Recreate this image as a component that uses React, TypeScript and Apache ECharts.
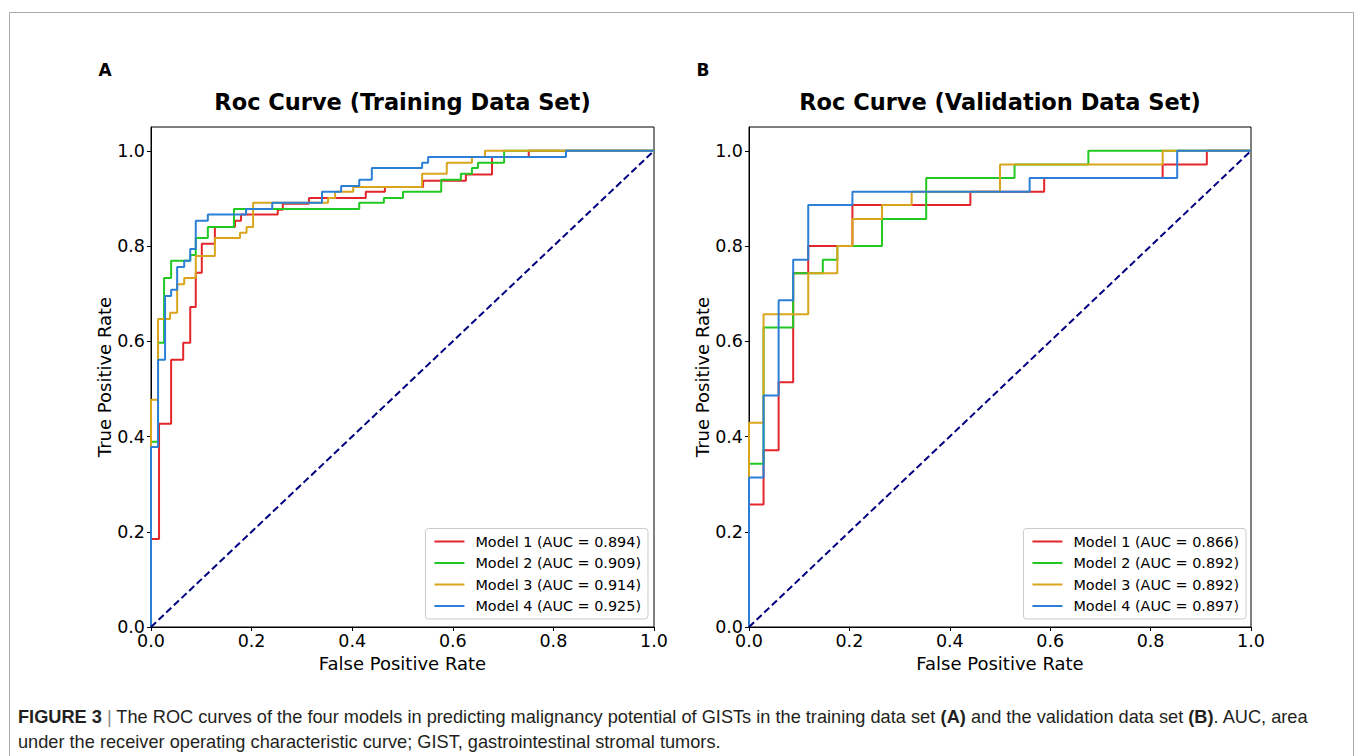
import React, { useEffect, useRef } from "react";
import * as echarts from "echarts";

// ---------- data (corner points of each ROC step curve: [FPR, TPR]) ----------
const trainModel1: number[][] = [[0,0],[0,0.185],[0.016,0.185],[0.016,0.427],[0.04,0.427],[0.04,0.561],[0.064,0.561],[0.064,0.597],[0.078,0.597],[0.078,0.672],[0.089,0.672],[0.089,0.744],[0.101,0.744],[0.101,0.805],[0.127,0.805],[0.127,0.84],[0.167,0.84],[0.167,0.853],[0.179,0.853],[0.179,0.866],[0.252,0.866],[0.252,0.876],[0.262,0.876],[0.262,0.889],[0.314,0.889],[0.314,0.901],[0.427,0.901],[0.427,0.914],[0.465,0.914],[0.465,0.924],[0.541,0.924],[0.541,0.937],[0.626,0.937],[0.626,0.95],[0.678,0.95],[0.678,0.987],[0.751,0.987],[0.751,1],[1,1]];
const trainModel2: number[][] = [[0,0],[0,0.389],[0.014,0.389],[0.014,0.597],[0.026,0.597],[0.026,0.733],[0.04,0.733],[0.04,0.769],[0.078,0.769],[0.078,0.781],[0.089,0.781],[0.089,0.817],[0.113,0.817],[0.113,0.84],[0.165,0.84],[0.165,0.878],[0.414,0.878],[0.414,0.891],[0.463,0.891],[0.463,0.901],[0.501,0.901],[0.501,0.914],[0.577,0.914],[0.577,0.939],[0.616,0.939],[0.616,0.952],[0.638,0.952],[0.638,0.964],[0.65,0.964],[0.65,0.975],[0.702,0.975],[0.702,1],[1,1]];
const trainModel3: number[][] = [[0,0],[0,0.477],[0.014,0.477],[0.014,0.647],[0.038,0.647],[0.038,0.66],[0.052,0.66],[0.052,0.72],[0.066,0.72],[0.066,0.733],[0.089,0.733],[0.089,0.779],[0.127,0.779],[0.127,0.817],[0.177,0.817],[0.177,0.828],[0.19,0.828],[0.19,0.84],[0.203,0.84],[0.203,0.891],[0.352,0.891],[0.352,0.901],[0.366,0.901],[0.366,0.914],[0.402,0.914],[0.402,0.924],[0.539,0.924],[0.539,0.952],[0.588,0.952],[0.588,0.975],[0.638,0.975],[0.638,0.987],[0.664,0.987],[0.664,1],[1,1]];
const trainModel4: number[][] = [[0,0],[0,0.378],[0.014,0.378],[0.014,0.561],[0.028,0.561],[0.028,0.695],[0.04,0.695],[0.04,0.708],[0.052,0.708],[0.052,0.756],[0.066,0.756],[0.066,0.769],[0.078,0.769],[0.078,0.794],[0.089,0.794],[0.089,0.853],[0.113,0.853],[0.113,0.866],[0.189,0.866],[0.189,0.878],[0.241,0.878],[0.241,0.891],[0.34,0.891],[0.34,0.914],[0.378,0.914],[0.378,0.926],[0.414,0.926],[0.414,0.939],[0.439,0.939],[0.439,0.964],[0.539,0.964],[0.539,0.975],[0.551,0.975],[0.551,0.987],[0.825,0.987],[0.825,1],[1,1]];

const validModel1: number[][] = [[0,0],[0,0.257],[0.029,0.257],[0.029,0.371],[0.059,0.371],[0.059,0.514],[0.088,0.514],[0.088,0.743],[0.118,0.743],[0.118,0.8],[0.206,0.8],[0.206,0.886],[0.441,0.886],[0.441,0.914],[0.588,0.914],[0.588,0.943],[0.824,0.943],[0.824,0.971],[0.912,0.971],[0.912,1],[1,1]];
const validModel2: number[][] = [[0,0],[0,0.343],[0.029,0.343],[0.029,0.629],[0.088,0.629],[0.088,0.743],[0.147,0.743],[0.147,0.771],[0.176,0.771],[0.176,0.8],[0.265,0.8],[0.265,0.857],[0.353,0.857],[0.353,0.943],[0.529,0.943],[0.529,0.971],[0.676,0.971],[0.676,1],[1,1]];
const validModel3: number[][] = [[0,0],[0,0.429],[0.029,0.429],[0.029,0.657],[0.118,0.657],[0.118,0.743],[0.176,0.743],[0.176,0.8],[0.206,0.8],[0.206,0.857],[0.265,0.857],[0.265,0.886],[0.324,0.886],[0.324,0.914],[0.5,0.914],[0.5,0.971],[0.824,0.971],[0.824,1],[1,1]];
const validModel4: number[][] = [[0,0],[0,0.314],[0.029,0.314],[0.029,0.486],[0.059,0.486],[0.059,0.686],[0.088,0.686],[0.088,0.771],[0.118,0.771],[0.118,0.886],[0.206,0.886],[0.206,0.914],[0.559,0.914],[0.559,0.943],[0.853,0.943],[0.853,1],[1,1]];

const chanceLine: number[][] = [[0,0],[1,1]];

const trainNames = ["Model 1 (AUC = 0.894)", "Model 2 (AUC = 0.909)", "Model 3 (AUC = 0.914)", "Model 4 (AUC = 0.925)"];
const validNames = ["Model 1 (AUC = 0.866)", "Model 2 (AUC = 0.892)", "Model 3 (AUC = 0.892)", "Model 4 (AUC = 0.897)"];
const panelTitles = ["Roc Curve (Training Data Set)", "Roc Curve (Validation Data Set)"];
const panelLetters = ["A", "B"];
const tickValues = [0, 0.2, 0.4, 0.6, 0.8, 1.0];
const captionLine1 = "{b|FIGURE 3} {g||} The ROC curves of the four models in predicting malignancy potential of GISTs in the training data set {b|(A)} and the validation data set {b|(B)}. AUC, area";
const captionLine2 = "under the receiver operating characteristic curve; GIST, gastrointestinal stromal tumors.";

const modelColors = ["#e3262b", "#22c922", "#d8a51c", "#2b80d6"];

const FONT = "DejaVu Sans";

export default function App() {
  const ref = useRef<HTMLDivElement>(null);
  useEffect(() => {
    if (!ref.current) return;
    const chart = echarts.init(ref.current, undefined, { renderer: "svg" });
    const grids = [
      { left: 151, top: 127, width: 503, height: 500 },
      { left: 749, top: 127, width: 502, height: 500 },
    ];
    const axisCommon = {
      type: "value",
      axisLine: { show: true, onZero: false, lineStyle: { color: "#000", width: 1 } },
      axisTick: { show: true, length: 4, lineStyle: { color: "#000" }, customValues: tickValues },
      axisLabel: {
        fontFamily: FONT, fontSize: 17.5, color: "#000",
        customValues: tickValues,
        formatter: (v: number) => v.toFixed(1),
      },
      splitLine: { show: false },
      nameLocation: "middle",
      nameTextStyle: { fontFamily: FONT, fontSize: 18, color: "#000" },
    };
    const xAxis = [0, 1].map((i) => ({
      ...axisCommon, gridIndex: i, min: 0, max: 1, name: "False Positive Rate", nameGap: 21,
      axisLabel: { ...axisCommon.axisLabel, margin: 5 },
    }));
    const yAxis = [0, 1].map((i) => ({
      ...axisCommon, gridIndex: i, min: 0, max: 1.05, name: "True Positive Rate", nameGap: 33,
      axisLabel: { ...axisCommon.axisLabel, margin: 6 },
    }));

    const trainData = [trainModel1, trainModel2, trainModel3, trainModel4];
    const validData = [validModel1, validModel2, validModel3, validModel4];
    const series: any[] = [];
    [trainData, validData].forEach((set, gi) => {
      set.forEach((d, k) => {
        series.push({
          type: "line",
          name: (gi === 0 ? trainNames : validNames)[k],
          xAxisIndex: gi, yAxisIndex: gi,
          data: d, showSymbol: false, symbol: "none", clip: false,
          color: modelColors[k],
          lineStyle: { color: modelColors[k], width: 2 },
          z: 2 + k,
        });
      });
      series.push({
        type: "line", name: "chance" + gi, xAxisIndex: gi, yAxisIndex: gi,
        data: chanceLine, showSymbol: false, symbol: "none", clip: false,
        lineStyle: { color: "#000080", width: 2, type: [7, 3.5] }, z: 7,
      });
    });

    const legendCommon = {
      orient: "vertical", bottom: 137, icon: "rect", itemWidth: 30, itemHeight: 2,
      itemGap: 5.5, padding: [5, 7, 5, 9],
      borderColor: "#cccccc", borderWidth: 1, borderRadius: 3, backgroundColor: "rgba(255,255,255,0.9)",
      textStyle: { fontFamily: FONT, fontSize: 14.4, color: "#000", lineHeight: 16, padding: [0, 0, 0, 6] },
      selectedMode: false,
    };

    const graphic: any[] = [
      { type: "rect", shape: { x: 9.5, y: 12.5, width: 1344, height: 800 }, style: { fill: "none", stroke: "#aaaaaa", lineWidth: 1 }, silent: true },
    ];
    grids.forEach((g, i) => {
      graphic.push({
        type: "text", x: g.left + g.width / 2, y: 102,
        style: { text: panelTitles[i], fontFamily: FONT, fontWeight: "bold", fontSize: 22.5, fill: "#000", align: "center", verticalAlign: "middle" },
      });
      graphic.push({
        type: "text", x: g.left - 46, y: 70,
        style: { text: panelLetters[i], fontFamily: FONT, fontWeight: "bold", fontSize: 17, fill: "#000", align: "center", verticalAlign: "middle" },
      });
    });
    graphic.push({
      type: "text", x: 18, y: 717,
      style: {
        text: captionLine1, fontFamily: "Liberation Sans", fontSize: 18.2, fill: "#231f20", verticalAlign: "middle",
        rich: {
          b: { fontFamily: "Liberation Sans", fontSize: 18.2, fontWeight: "bold", fill: "#231f20" },
          g: { fontFamily: "Liberation Sans", fontSize: 18.2, fill: "#8a8a8a" },
        },
      },
    });
    graphic.push({
      type: "text", x: 18, y: 742,
      style: { text: captionLine2, fontFamily: "Liberation Sans", fontSize: 18.2, fill: "#231f20", verticalAlign: "middle" },
    });

    chart.setOption({
      animation: false,
      backgroundColor: "#ffffff",
      grid: grids.map((g) => ({ ...g, show: true, borderColor: "#000", borderWidth: 1, backgroundColor: "transparent" })),
      xAxis, yAxis,
      legend: [
        { ...legendCommon, right: 707, data: trainNames },
        { ...legendCommon, right: 109, data: validNames },
      ],
      series,
      graphic,
    } as any);
    return () => chart.dispose();
  }, []);
  return <div ref={ref} style={{ position: "fixed", left: 0, top: 0, width: 1355, height: 756 }} />;
}
